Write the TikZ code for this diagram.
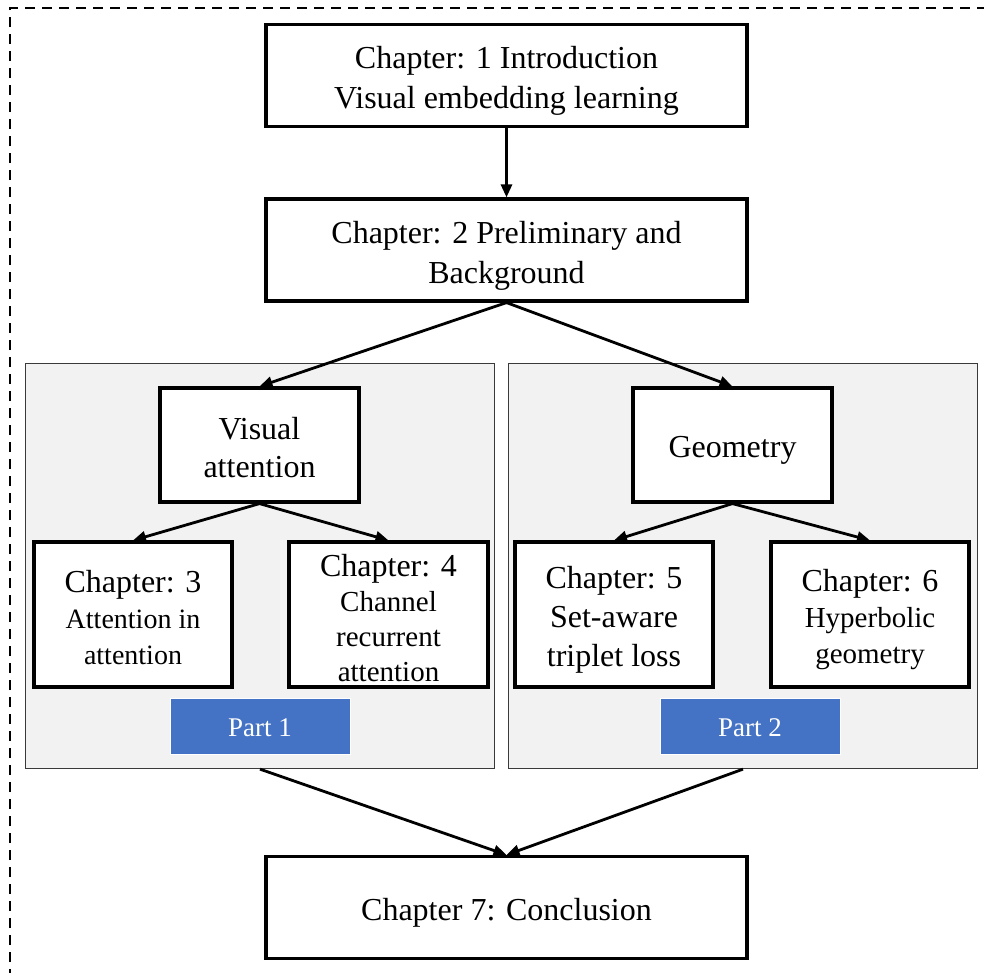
\documentclass[tikz,border=0pt]{standalone}
\usepackage{fontspec}
\setmainfont{Liberation Serif}
\usetikzlibrary{arrows.meta}
\definecolor{partblue}{HTML}{4472C4}
\definecolor{panelgray}{HTML}{F2F2F2}
\definecolor{paneledge}{HTML}{3A3A3A}
\begin{document}
\begin{tikzpicture}[x=1pt,y=-1pt,
  chbox/.style={draw=black, line width=3.2pt, fill=white, rectangle, inner sep=0pt},
  chtext/.style={inner sep=0pt, align=center, font=\fontsize{32}{40}\selectfont},
  panel/.style={draw=paneledge, line width=1.3pt, fill=panelgray, rectangle, inner sep=0pt},
  partbox/.style={draw=white, line width=0.8pt, fill=partblue, rectangle, inner sep=0pt,
    minimum width=180pt, minimum height=56pt},
  parttext/.style={inner sep=0pt, text=white, font=\fontsize{27}{32}\selectfont},
  link/.style={line width=2.8pt, -{Triangle[length=13pt,width=11pt]}}]
\useasboundingbox (0,0) rectangle (984,972);
\begin{scope}
  \clip (0,0) rectangle (984,972);
  \draw[line width=2.3pt, dash pattern=on 10pt off 7pt] (10,996) -- (10,8) -- (1000,8);
\end{scope}

% grey panels of the two parts
\node[panel, minimum width=469pt, minimum height=405pt] (p1) at (260,566) {};
\node[panel, minimum width=469pt, minimum height=405pt] (p2) at (743,566) {};

% chapter boxes
\node[chbox, minimum width=481pt, minimum height=102pt] (ch1) at (506.5,75.5) {};
\node[chbox, minimum width=481pt, minimum height=102pt] (ch2) at (506.5,250) {};
\node[chbox, minimum width=199pt, minimum height=114pt] (va) at (259.5,445) {};
\node[chbox, minimum width=199pt, minimum height=114pt] (geo) at (732.5,445) {};
\node[chbox, minimum width=198pt, minimum height=145pt] (ch3) at (133,614.5) {};
\node[chbox, minimum width=199pt, minimum height=145pt] (ch4) at (388.5,614.5) {};
\node[chbox, minimum width=198pt, minimum height=145pt] (ch5) at (614,614.5) {};
\node[chbox, minimum width=198pt, minimum height=145pt] (ch6) at (870,614.5) {};
\node[chbox, minimum width=481pt, minimum height=102pt] (ch7) at (506.5,907.5) {};

% box titles
\node[chtext] (ch1t) at (ch1.center) [yshift=-5pt] {Chapter: 1 Introduction\\Visual embedding learning};
\node[chtext] (ch2t) at (ch2.center) [yshift=-6pt] {Chapter: 2 Preliminary and\\Background};
\node[chtext, font=\fontsize{32}{38}\selectfont] (vat) at (va.center) [yshift=-3pt] {Visual\\attention};
\node[chtext] (geot) at (geo.center) [yshift=-5pt] {Geometry};
\node[chtext, font=\fontsize{28}{36}\selectfont] (ch3t) at (ch3.center) [yshift=-3pt]
  {{\fontsize{32}{36}\selectfont Chapter: 3}\\Attention in\\attention};
\node[chtext, font=\fontsize{29}{35}\selectfont] (ch4t) at (ch4.center) [yshift=-4pt]
  {{\fontsize{32}{35}\selectfont Chapter: 4}\\Channel\\recurrent\\attention};
\node[chtext, font=\fontsize{32}{39}\selectfont] (ch5t) at (ch5.center) [yshift=-5pt]
  {Chapter: 5\\Set-aware\\triplet loss};
\node[chtext, font=\fontsize{29}{36}\selectfont] (ch6t) at (ch6.center) [yshift=-5pt]
  {{\fontsize{32}{36}\selectfont Chapter: 6}\\Hyperbolic\\geometry};
\node[chtext] (ch7t) at (ch7.center) [yshift=-5pt] {Chapter 7: Conclusion};

% part labels
\node[partbox] (part1) at (260,726) {};
\node[partbox] (part2) at (750,726) {};
\node[parttext] (part1t) at (part1.center) [yshift=-2pt] {Part 1};
\node[parttext] (part2t) at (part2.center) [yshift=-2pt] {Part 2};

% connectors
\draw[link] (ch1.south) -- (ch2.north);
\draw[link] (ch2.south) -- (va.north);
\draw[link] (ch2.south) -- (geo.north);
\draw[link] (va.south) -- (ch3.north);
\draw[link] (va.south) -- (ch4.north);
\draw[link] (geo.south) -- (ch5.north);
\draw[link] (geo.south) -- (ch6.north);
\draw[link] (p1.south) -- (ch7.north);
\draw[link] (p2.south) -- (ch7.north);
\end{tikzpicture}
\end{document}
